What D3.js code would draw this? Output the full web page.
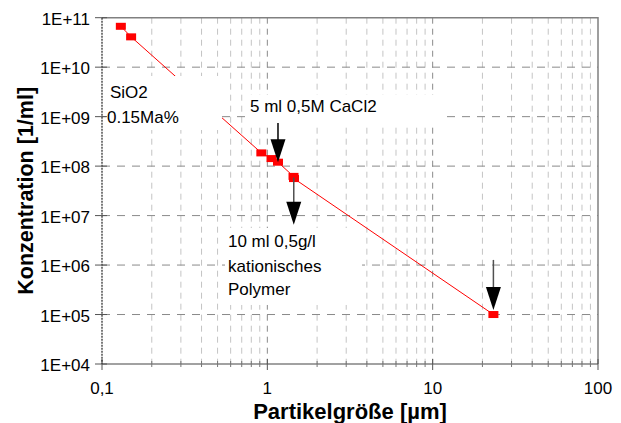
<!DOCTYPE html>
<html>
<head>
<meta charset="utf-8">
<script src="https://cdn.jsdelivr.net/npm/d3@7"></script>
<style>
  body { margin: 0; background: #fff; }
  svg { font-family: "Liberation Sans", Arial, sans-serif; }
</style>
</head>
<body>
<div id="chart"></div>
<script>
// particle size [µm] vs concentration [1/ml]
var sizes = [0.13, 0.15, 0.92, 1.06, 1.16, 1.44, 1.45, 23.3];
var concentrations = [6.7e10, 4.1e10, 1.85e8, 1.42e8, 1.2e8, 6.2e7, 5.6e7, 1.0e5];

var xTicks = [0.1, 1, 10, 100];
var xTickLabels = ["0,1", "1", "10", "100"];
var yTicks = [1e4, 1e5, 1e6, 1e7, 1e8, 1e9, 1e10, 1e11];
var yTickLabels = ["1E+04", "1E+05", "1E+06", "1E+07", "1E+08", "1E+09", "1E+10", "1E+11"];

// annotation text, anchored in data units
var notes = [
  {box: [0.1057, 0.532, 6.63e9, 5.37e8], lines: [[0.1118, 2.38e9, "SiO2"], [0.1072, 7.44e8, "0.15Ma%"]]},
  {box: [0.733, 12.21, 2.74e9, 6.78e8], lines: [[0.786, 1.26e9, "5 ml 0,5M CaCl2"]]},
  {box: [0.5546, 3.74, 5.61e6, 1.56e5], lines: [[0.578, 2.35e6, "10 ml 0,5g/l"], [0.578, 7.34e5, "kationisches"], [0.578, 2.48e5, "Polymer"]]}
];
// arrows: x, start y, tip y
var arrows = [
  [1.16, 7.46e8, 1.2e8],
  [1.445, 5.9e7, 6.5e6],
  [23.3, 1.27e6, 1.24e5]
];

var width = 621, height = 423;
var margin = {top: 17.7, right: 23, bottom: 59, left: 102};

var svg = d3.select("#chart").append("svg")
    .attr("width", width)
    .attr("height", height);

var x = d3.scaleLog().domain([0.1, 100]).range([margin.left, width - margin.right]);
var y = d3.scaleLog().domain([1e4, 1e11]).range([height - margin.bottom, margin.top]);

var minorX = [];
[0.1, 1, 10].forEach(function(d) {
  for (var k = 2; k <= 9; k++) minorX.push(d * k);
});

var grid = svg.append("g");
grid.selectAll(".minor")
    .data(minorX)
    .enter().append("line")
    .attr("x1", d => x(d)).attr("x2", d => x(d))
    .attr("y1", y(1e11)).attr("y2", y(1e4))
    .style("stroke", "#c4c4c4")
    .style("stroke-dasharray", "6,5");
grid.selectAll(".majorx")
    .data([1, 10])
    .enter().append("line")
    .attr("x1", d => x(d)).attr("x2", d => x(d))
    .attr("y1", y(1e11)).attr("y2", y(1e4))
    .style("stroke", "#8a8a8a")
    .style("stroke-dasharray", "6,5");
grid.selectAll(".majory")
    .data(yTicks.slice(1, -1))
    .enter().append("line")
    .attr("x1", x(0.1)).attr("x2", x(100))
    .attr("y1", d => y(d)).attr("y2", d => y(d))
    .style("stroke", "#8a8a8a")
    .style("stroke-dasharray", "8,7");

// frame top/right
svg.append("path")
    .attr("d", "M" + x(0.1) + "," + y(1e11) + "H" + x(100) + "V" + y(1e4))
    .style("fill", "none")
    .style("stroke", "#808080")
    .style("stroke-width", 1.5);

// series
var pts = sizes.map((d, i) => [d, concentrations[i]]);
svg.append("path")
    .datum(pts)
    .attr("d", d3.line().x(d => x(d[0])).y(d => y(d[1])))
    .style("fill", "none")
    .style("stroke", "#ff0000")
    .style("stroke-width", 1);
svg.selectAll(".pt")
    .data(pts)
    .enter().append("rect")
    .attr("x", d => x(d[0]) - 5)
    .attr("y", d => y(d[1]) - 3.5)
    .attr("width", 10)
    .attr("height", 7)
    .style("fill", "#ff0000");

// white text boxes on top of grid and line
var ng = svg.selectAll(".note")
    .data(notes)
    .enter().append("g");
ng.append("rect")
    .attr("x", d => x(d.box[0]))
    .attr("y", d => y(d.box[2]))
    .attr("width", d => x(d.box[1]) - x(d.box[0]))
    .attr("height", d => y(d.box[3]) - y(d.box[2]))
    .style("fill", "#fff");
ng.selectAll("text")
    .data(d => d.lines)
    .enter().append("text")
    .attr("x", d => x(d[0]))
    .attr("y", d => y(d[1]))
    .style("font-size", "17px")
    .style("fill", "#000")
    .text(d => d[2]);

// arrows
var ag = svg.selectAll(".arrow")
    .data(arrows)
    .enter().append("g");
ag.append("line")
    .attr("x1", d => x(d[0])).attr("x2", d => x(d[0]))
    .attr("y1", d => y(d[1])).attr("y2", d => y(d[2]) - 20)
    .style("stroke", (d, i) => i === 0 ? "#000" : "#505050")
    .style("stroke-width", 1.5);
ag.append("path")
    .attr("d", d => {
      var cx = x(d[0]), ty = y(d[2]);
      return "M" + (cx - 7.5) + "," + (ty - 23) + "L" + (cx + 7.5) + "," + (ty - 23) + "L" + cx + "," + ty + "Z";
    })
    .style("fill", "#000");

// axes
var xAxis = svg.append("g");
xAxis.append("line")
    .attr("x1", x(0.1)).attr("x2", x(100))
    .attr("y1", y(1e4)).attr("y2", y(1e4))
    .style("stroke", "#444")
    .style("stroke-width", 1.2);
xAxis.selectAll(".mt")
    .data(minorX)
    .enter().append("line")
    .attr("x1", d => x(d)).attr("x2", d => x(d))
    .attr("y1", y(1e4) - 3).attr("y2", y(1e4) + 3)
    .style("stroke", "#777");
xAxis.selectAll(".Mt")
    .data(xTicks)
    .enter().append("line")
    .attr("x1", d => x(d)).attr("x2", d => x(d))
    .attr("y1", y(1e4) - 5).attr("y2", y(1e4) + 6)
    .style("stroke", "#555");
xAxis.selectAll("text")
    .data(xTicks)
    .enter().append("text")
    .attr("x", d => x(d))
    .attr("y", y(1e4) + 30)
    .attr("text-anchor", "middle")
    .style("font-size", "17px")
    .text((d, i) => xTickLabels[i]);

var yAxis = svg.append("g");
yAxis.append("line")
    .attr("x1", x(0.1)).attr("x2", x(0.1))
    .attr("y1", y(1e11)).attr("y2", y(1e4))
    .style("stroke", "#222")
    .style("stroke-width", 1.2)
    .style("stroke-dasharray", "2,1");
yAxis.selectAll(".yt")
    .data(yTicks)
    .enter().append("line")
    .attr("x1", x(0.1) - 7).attr("x2", x(0.1) + 5)
    .attr("y1", d => y(d)).attr("y2", d => y(d))
    .style("stroke", "#555");
yAxis.selectAll("text")
    .data(yTicks)
    .enter().append("text")
    .attr("x", x(0.1) - 12)
    .attr("y", d => y(d) + 7.3)
    .attr("text-anchor", "end")
    .style("font-size", "17px")
    .text((d, i) => yTickLabels[i]);

svg.append("text")
    .attr("x", (x(0.1) + x(100)) / 2)
    .attr("y", 419)
    .attr("text-anchor", "middle")
    .style("font-size", "22px")
    .style("font-weight", "bold")
    .text("Partikelgröße [µm]");
svg.append("text")
    .attr("transform", "translate(33," + (y(1e4) + y(1e11)) / 2 + ") rotate(-90)")
    .attr("text-anchor", "middle")
    .style("font-size", "21.5px")
    .style("font-weight", "bold")
    .text("Konzentration [1/ml]");
</script>
</body>
</html>
